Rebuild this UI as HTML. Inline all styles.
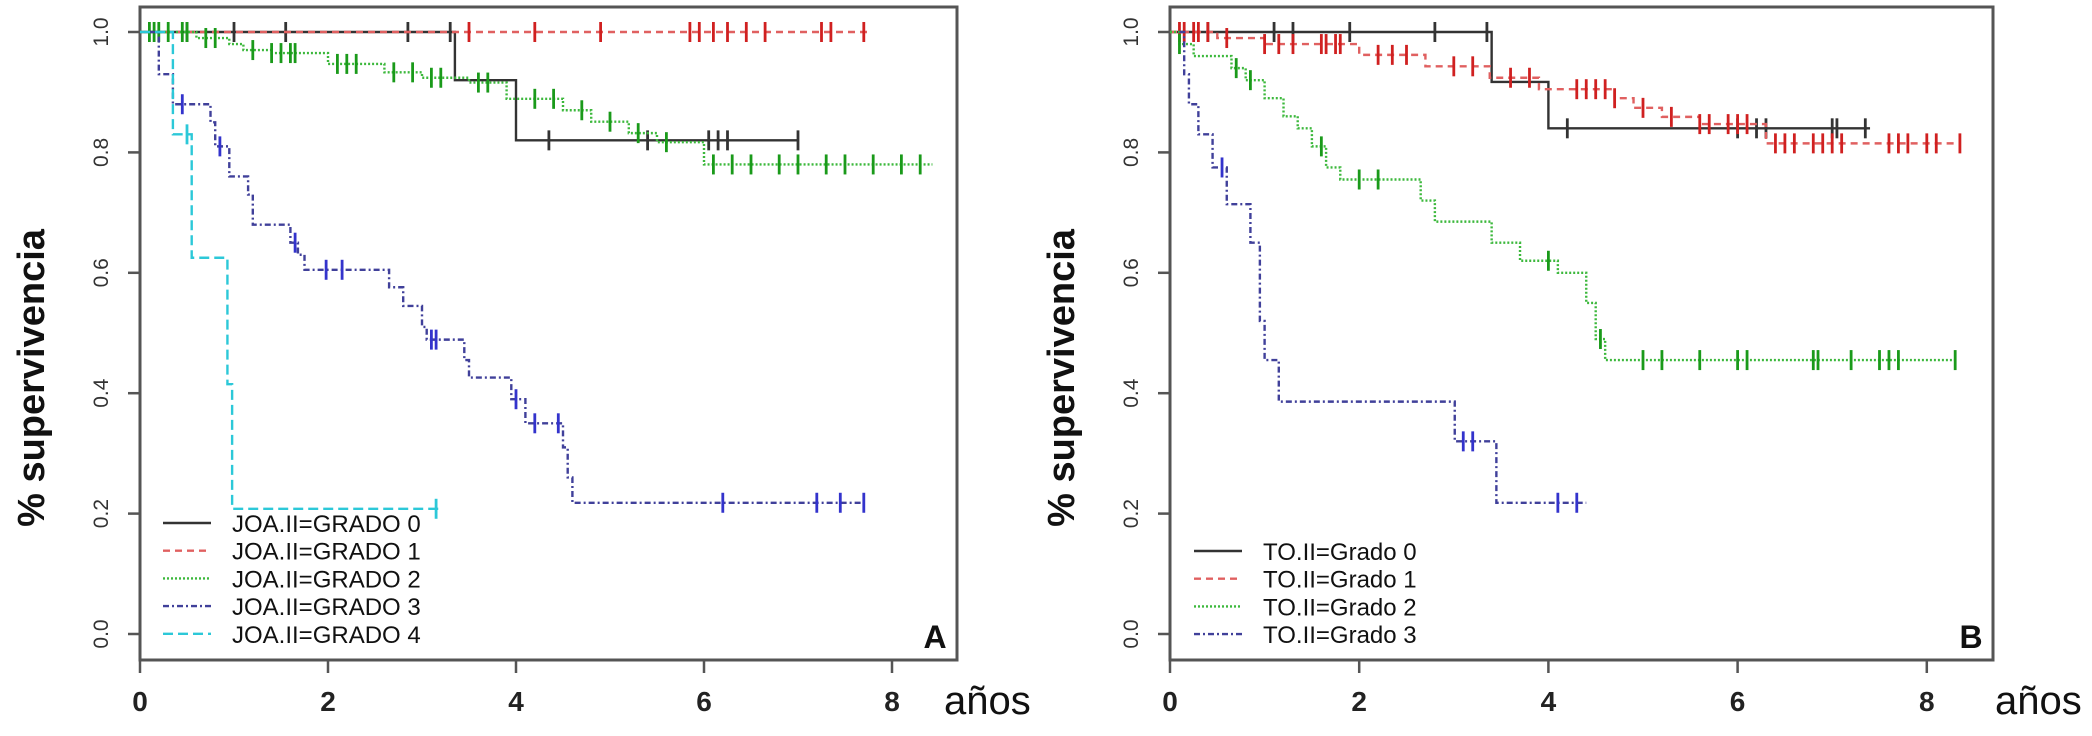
<!DOCTYPE html>
<html><head><meta charset="utf-8">
<style>
body{margin:0;background:#fff;}
svg{display:block;font-family:"Liberation Sans",Arial,sans-serif;}
</style></head>
<body>
<svg id="chart" width="2092" height="736" viewBox="0 0 2092 736"></svg>
<script>
// ---------- Panel A data ----------
const xTicks = [0, 2, 4, 6, 8];
const yTicks = [0.0, 0.2, 0.4, 0.6, 0.8, 1.0];
const yTickLabels = ["0.0", "0.2", "0.4", "0.6", "0.8", "1.0"];

const aG0Times = [0, 3.35, 4.0, 7.0];
const aG0Surv = [1.0, 0.92, 0.82, 0.82];
const aG0CensT = [0.5, 1.0, 1.55, 2.85, 3.3, 4.35, 5.4, 6.05, 6.15, 6.25, 7.0];
const aG1Times = [0, 7.75];
const aG1Surv = [1.0, 1.0];
const aG1CensT = [3.5, 4.2, 4.9, 5.85, 5.95, 6.1, 6.25, 6.45, 6.65, 7.25, 7.35, 7.7];
const aG2Times = [0, 0.6, 0.95, 1.1, 1.4, 2.0, 2.6, 3.0, 3.5, 3.9, 4.5, 4.8, 5.2, 5.5, 6.0, 8.43];
const aG2Surv = [1.0, 0.99, 0.98, 0.97, 0.965, 0.947, 0.933, 0.924, 0.916, 0.889, 0.87, 0.851, 0.832, 0.817, 0.78, 0.78];
const aG2CensT = [0.1, 0.15, 0.2, 0.3, 0.45, 0.5, 0.7, 0.8, 1.2, 1.4, 1.5, 1.6, 1.65, 2.1, 2.2, 2.3, 2.7, 2.9, 3.1, 3.2, 3.6, 3.7, 4.2, 4.4, 4.7, 5.0, 5.3, 5.6, 6.1, 6.3, 6.5, 6.8, 7.0, 7.3, 7.5, 7.8, 8.1, 8.3];
const aG3Times = [0.1, 0.2, 0.35, 0.75, 0.8, 0.95, 1.15, 1.2, 1.6, 1.68, 1.75, 2.65, 2.8, 3.0, 3.05, 3.45, 3.5, 3.95, 4.1, 4.5, 4.55, 4.6, 7.7];
const aG3Surv = [1.0, 0.93, 0.88, 0.85, 0.81, 0.76, 0.73, 0.68, 0.65, 0.63, 0.605, 0.576, 0.545, 0.51, 0.489, 0.455, 0.426, 0.39, 0.35, 0.31, 0.26, 0.218, 0.218];
const aG3CensT = [0.45, 0.85, 1.65, 1.98, 2.15, 3.1, 3.15, 4.0, 4.2, 4.45, 6.2, 7.2, 7.45, 7.7];
const aG4Times = [0, 0.35, 0.55, 0.93, 0.98, 3.2];
const aG4Surv = [1.0, 0.83, 0.625, 0.415, 0.208, 0.208];
const aG4CensT = [0.5, 3.15];

// ---------- Panel B data ----------
const bG0Times = [0, 3.4, 4.0, 7.4];
const bG0Surv = [1.0, 0.917, 0.84, 0.84];
const bG0CensT = [0.4, 1.1, 1.3, 1.9, 2.8, 3.35, 4.2, 6.0, 6.2, 6.3, 7.0, 7.05, 7.35];
const bG1Times = [0, 0.5, 1.0, 2.0, 2.7, 3.38, 3.9, 4.7, 4.9, 5.2, 5.6, 6.3, 8.35];
const bG1Surv = [1.0, 0.99, 0.98, 0.962, 0.943, 0.924, 0.905, 0.89, 0.874, 0.859, 0.847, 0.815, 0.815];
const bG1CensT = [0.1, 0.15, 0.25, 0.3, 0.4, 0.6, 1.0, 1.15, 1.3, 1.6, 1.65, 1.75, 1.8, 2.2, 2.35, 2.5, 3.0, 3.2, 3.6, 3.8, 4.3, 4.4, 4.5, 4.6, 4.7, 5.0, 5.3, 5.6, 5.7, 5.9, 6.0, 6.1, 6.4, 6.5, 6.6, 6.8, 6.9, 7.0, 7.1, 7.6, 7.7, 7.8, 8.0, 8.1, 8.35];
const bG2Times = [0, 0.1, 0.25, 0.65, 0.8, 1.0, 1.2, 1.35, 1.5, 1.65, 1.8, 2.65, 2.8, 3.4, 3.7, 4.1, 4.4, 4.5, 4.6, 8.3];
const bG2Surv = [1.0, 0.98, 0.96, 0.94, 0.92, 0.89, 0.86, 0.84, 0.81, 0.775, 0.755, 0.72, 0.685, 0.65, 0.62, 0.6, 0.55, 0.49, 0.455, 0.455];
const bG2CensT = [0.1, 0.7, 0.85, 1.6, 2.0, 2.2, 4.0, 4.55, 5.0, 5.2, 5.6, 6.0, 6.1, 6.8, 6.85, 7.2, 7.5, 7.6, 7.7, 8.3];
const bG3Times = [0.1, 0.15, 0.2, 0.3, 0.45, 0.6, 0.85, 0.95, 1.0, 1.15, 3.01, 3.45, 4.4];
const bG3Surv = [1.0, 0.93, 0.88, 0.83, 0.775, 0.714, 0.65, 0.52, 0.455, 0.386, 0.32, 0.218, 0.218];
const bG3CensT = [0.55, 3.1, 3.2, 4.1, 4.3];

const NS = "http://www.w3.org/2000/svg";
const svg = document.getElementById("chart");
function mk(tag, attrs, parent) {
  const e = document.createElementNS(NS, tag);
  for (const k in attrs) e.setAttribute(k, attrs[k]);
  (parent || svg).appendChild(e);
  return e;
}

function panel(p) {
  const g = mk("g", {});
  
  
  const xS = v => p.x0 + v * p.xPer;
  const yS = v => p.y0 - v * (p.y0 - p.y1);
  const box = mk("rect", {x: p.bl, y: 7, width: p.br - p.bl, height: 653, fill: "none", stroke: "#555", "stroke-width": 3}, g);
  
  
  xTicks.forEach(t => {
    const tk = mk("line", {x1: xS(t), x2: xS(t), y1: 660, y2: 673, stroke: "#555", "stroke-width": 2.5}, g);
    
    
    const tl = mk("text", {x: xS(t), y: 711, "text-anchor": "middle", "font-size": 28, "font-weight": "bold", fill: "#222"}, g);
    tl.textContent = t;
    
    
  });
  yTicks.forEach((t, i) => {
    const tk = mk("line", {x1: p.bl - 12, x2: p.bl, y1: yS(t), y2: yS(t), stroke: "#555", "stroke-width": 2.5}, g);
    
    
    const tl = mk("text", {x: 0, y: 0, "text-anchor": "middle", "font-size": 21, fill: "#333", transform: `translate(${p.bl - 32},${yS(t)}) rotate(-90)`}, g);
    tl.textContent = yTickLabels[i];
    
    
  });
  const yt = mk("text", {x: 0, y: 0, "text-anchor": "middle", "font-size": 38, "font-weight": "bold", fill: "#111", transform: `translate(${p.bl - 96},378) rotate(-90)`}, g);
  yt.textContent = "% supervivencia";
  
  
  const xt = mk("text", {x: p.anosX, y: 714, "font-size": 40, fill: "#111"}, g);
  xt.textContent = "años";
  
  
  const pl = mk("text", {x: p.br - 22, y: 648, "text-anchor": "middle", "font-size": 32, "font-weight": "bold", fill: "#111"}, g);
  pl.textContent = p.letter;
  
  

  p.series.forEach((s, si) => {
    let d = "";
    s.t.forEach((t, i) => {
      if (i === 0) d = `M${xS(t)},${yS(s.s[i])}`;
      else d += ` H${xS(t)} V${yS(s.s[i])}`;
    });
    const path = mk("path", {d: d, fill: "none", stroke: s.color, "stroke-width": 2.4, "stroke-dasharray": s.dash}, g);
    
    
    s.c.forEach(ct => {
      let v = s.s[0];
      for (let i = 0; i < s.t.length; i++) if (s.t[i] <= ct) v = s.s[i];
      const m = mk("line", {x1: xS(ct), x2: xS(ct), y1: yS(v) - 10, y2: yS(v) + 10, stroke: s.mark, "stroke-width": 2.8}, g);
      
      
    });
    const ly = p.legY + si * 27.7;
    const ll = mk("line", {x1: p.legX, x2: p.legX + 48, y1: ly, y2: ly, stroke: s.color, "stroke-width": 2.4, "stroke-dasharray": s.dash}, g);
    
    
    const lt = mk("text", {x: p.legX + 69, y: ly + 9, "font-size": 24, fill: "#111"}, g);
    lt.textContent = s.label;
    
    
  });
}

panel({name: "panel-a", letter: "A", bl: 140, br: 957, x0: 140, xPer: 94, y0: 634, y1: 32, anosX: 944, legX: 163, legY: 523,
  series: [
    {key: "a-grado-0", t: aG0Times, s: aG0Surv, c: aG0CensT, color: "#333", mark: "#333", dash: "none", label: "JOA.II=GRADO 0"},
    {key: "a-grado-1", t: aG1Times, s: aG1Surv, c: aG1CensT, color: "#e06060", mark: "#d02020", dash: "7,5", label: "JOA.II=GRADO 1"},
    {key: "a-grado-2", t: aG2Times, s: aG2Surv, c: aG2CensT, color: "#3cb83c", mark: "#1a9a1a", dash: "2,2", label: "JOA.II=GRADO 2"},
    {key: "a-grado-3", t: aG3Times, s: aG3Surv, c: aG3CensT, color: "#40409a", mark: "#3333cc", dash: "6,3,2,3", label: "JOA.II=GRADO 3"},
    {key: "a-grado-4", t: aG4Times, s: aG4Surv, c: aG4CensT, color: "#2cc8d8", mark: "#2cc8d8", dash: "10,5", label: "JOA.II=GRADO 4"}
  ]});

panel({name: "panel-b", letter: "B", bl: 1170, br: 1993, x0: 1170, xPer: 94.6, y0: 634, y1: 32, anosX: 1995, legX: 1194, legY: 551,
  series: [
    {key: "b-grado-0", t: bG0Times, s: bG0Surv, c: bG0CensT, color: "#333", mark: "#333", dash: "none", label: "TO.II=Grado 0"},
    {key: "b-grado-1", t: bG1Times, s: bG1Surv, c: bG1CensT, color: "#e06060", mark: "#d02020", dash: "7,5", label: "TO.II=Grado 1"},
    {key: "b-grado-2", t: bG2Times, s: bG2Surv, c: bG2CensT, color: "#3cb83c", mark: "#1a9a1a", dash: "2,2", label: "TO.II=Grado 2"},
    {key: "b-grado-3", t: bG3Times, s: bG3Surv, c: bG3CensT, color: "#40409a", mark: "#3333cc", dash: "6,3,2,3", label: "TO.II=Grado 3"}
  ]});
</script>
</body></html>
